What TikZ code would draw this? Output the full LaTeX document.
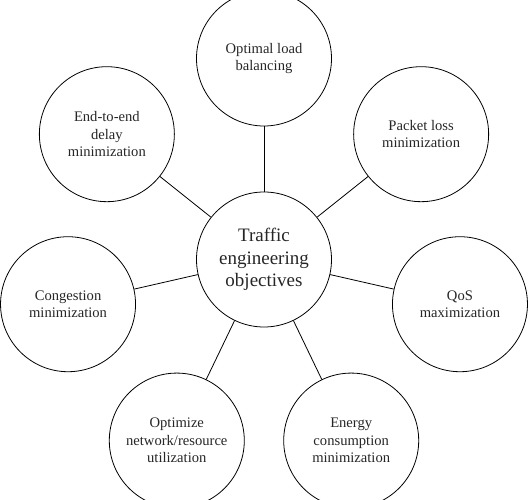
\documentclass[tikz,border=0pt]{standalone}
\usepackage{fontspec}
\setmainfont{Liberation Serif}
\usetikzlibrary{calc}
\begin{document}
\begin{tikzpicture}[x=1pt,y=1pt,
  bubble/.style={circle,draw=black,line width=0.8pt,minimum size=135pt,inner sep=0pt,align=center,
    font=\fontsize{14.6}{17.5}\selectfont,text=black!85},
  hubstyle/.style={bubble,font=\fontsize{19}{22.5}\selectfont},
  link/.style={draw=black,line width=0.8pt}]
\useasboundingbox (0,0) rectangle (528,500);
\coordinate (c) at (264,240.5);
\node[hubstyle] (hub) at (c) {Traffic\\engineering\\objectives};
\node[bubble] (s1) at ($(c)+(90:201pt)$) {Optimal load\\balancing};
\node[bubble] (s2) at ($(c)+(38.571:201pt)$) {Packet loss\\minimization};
\node[bubble] (s3) at ($(c)+(-12.857:201pt)$) {QoS\\maximization};
\node[bubble] (s4) at ($(c)+(-64.286:201pt)$) {Energy\\consumption\\minimization};
\node[bubble] (s5) at ($(c)+(-115.714:201pt)$) {Optimize\\network/resource\\utilization};
\node[bubble] (s6) at ($(c)+(-167.143:201pt)$) {Congestion\\minimization};
\node[bubble] (s7) at ($(c)+(141.429:201pt)$) {End-to-end\\delay\\minimization};
\foreach \s in {s1,s2,s3,s4,s5,s6,s7} \draw[link] (hub) -- (\s);
\end{tikzpicture}
\end{document}
